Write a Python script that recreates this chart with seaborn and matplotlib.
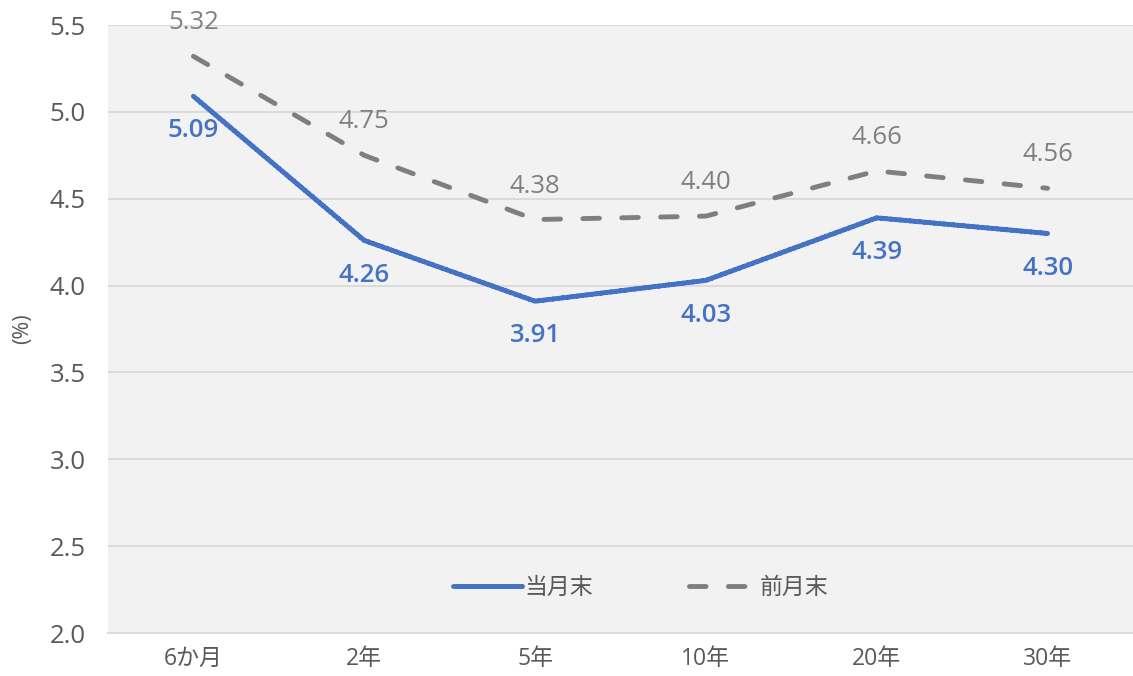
import numpy as np
import pandas as pd
import seaborn as sns
import matplotlib.pyplot as plt

# 年限ごとの利回り
categories = ['6か月', '2年', '5年', '10年', '20年', '30年']
current = [5.09, 4.26, 3.91, 4.03, 4.39, 4.30]   # 当月末
previous = [5.32, 4.75, 4.38, 4.40, 4.66, 4.56]  # 前月末
series_names = ['当月末', '前月末']

blue = '#4472C4'
gray = '#7F7F7F'
text_c = '#595959'

sns.set_theme(style='whitegrid')
plt.rcParams['font.family'] = ['Open Sans', 'Noto Sans CJK JP', 'DejaVu Sans']

df = pd.DataFrame({
    'x': list(range(len(categories))) * 2,
    'y': current + previous,
    's': [series_names[0]] * len(current) + [series_names[1]] * len(previous),
})

fig = plt.figure(figsize=(11.33, 6.76), dpi=100)
ax = fig.add_axes([0.0953, 0.0636, 0.9047, 0.8994])
ax.set_facecolor('#F2F2F2')

sns.lineplot(data=df, x='x', y='y', hue='s', style='s',
             palette=[blue, gray], dashes=[(1, 0), (3.4, 4.6)],
             linewidth=3.5, ax=ax)
for ln in ax.get_lines():
    ln.set_dash_capstyle('round')
    ln.set_solid_capstyle('round')

for i in range(len(categories)):
    ax.annotate(f'{current[i]:.2f}', (i, current[i]), xytext=(0, -25),
                textcoords='offset points', ha='center', va='center',
                color=blue, fontsize=18.5, fontweight='semibold')
    ax.annotate(f'{previous[i]:.2f}', (i, previous[i]), xytext=(0, 24),
                textcoords='offset points', ha='center', va='center',
                color='#808080', fontsize=18.5, annotation_clip=False)

ax.set_xlim(-0.5, len(categories) - 0.5)
ax.set_ylim(2.0, 5.5)
ax.set_yticks(np.arange(2.0, 5.51, 0.5))
ax.set_yticklabels([f'{v:.1f}' for v in np.arange(2.0, 5.51, 0.5)])
ax.set_xticks(range(len(categories)))
ax.set_xticklabels(categories)
ax.tick_params(axis='y', labelsize=18.5, colors=text_c, length=0, pad=16)
ax.tick_params(axis='x', labelsize=16.5, colors=text_c, length=0, pad=10)

ax.grid(axis='y', color='#D9D9D9', linewidth=1.3)
ax.grid(axis='x', visible=False)
for sp in ['top', 'right', 'left']:
    ax.spines[sp].set_visible(False)
ax.spines['bottom'].set_color('#D9D9D9')
ax.spines['bottom'].set_linewidth(1.3)

ax.set_xlabel('')
ax.set_ylabel('(%)', color=text_c, fontsize=15.5, labelpad=12)

leg = ax.legend(loc='center', bbox_to_anchor=(0.52, 0.074), ncol=2,
                frameon=False, fontsize=16.5, handlelength=3.0,
                columnspacing=4.2, handletextpad=0.1)
for t in leg.get_texts():
    t.set_color(text_c)
for h in leg.get_lines():
    h.set_dash_capstyle('round')
    h.set_solid_capstyle('round')

fig.savefig('out.png', dpi=100)
